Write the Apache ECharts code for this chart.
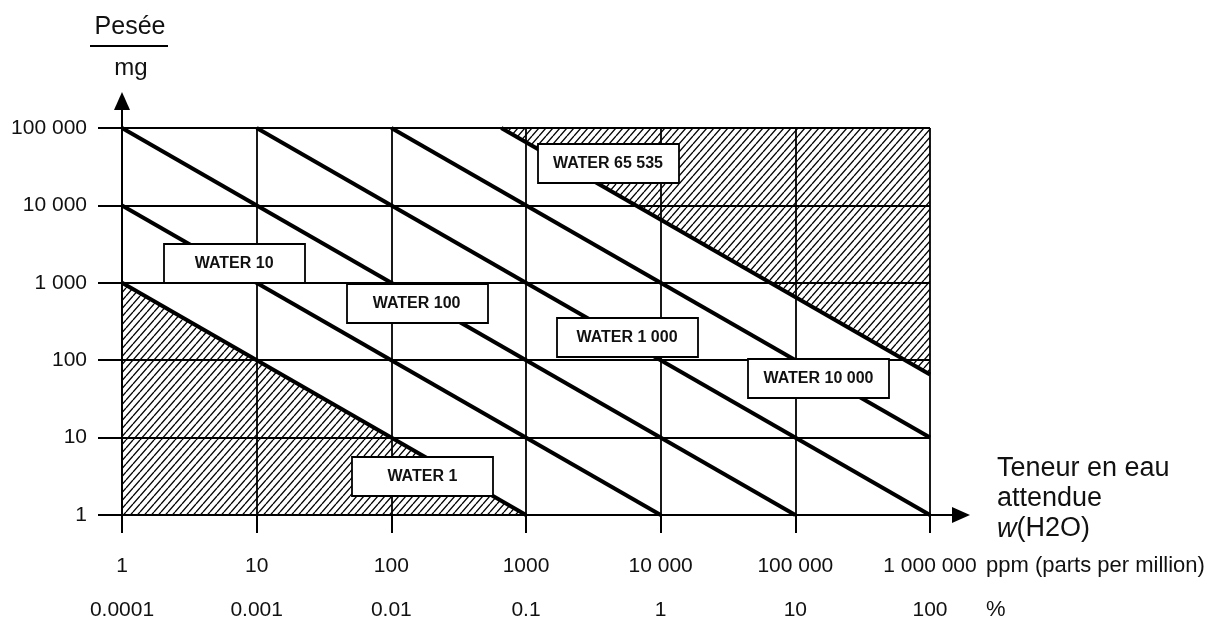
<!DOCTYPE html>
<html>
<head>
<meta charset="utf-8">
<script src="https://cdn.jsdelivr.net/npm/echarts@6/dist/echarts.min.js"></script>
<style>
html, body { margin: 0; padding: 0; background: #fff; }
#chart { width: 1207px; height: 623px; }
</style>
</head>
<body>
<div id="chart"></div>
<script>
// tick labels
const ppmTicks = ['1', '10', '100', '1000', '10 000', '100 000', '1 000 000']
const pctTicks = ['0.0001', '0.001', '0.01', '0.1', '1', '10', '100']
const massTicks = ['1', '10', '100', '1 000', '10 000', '100 000']

// WATER lines: [ppm, mg] end points
const waterNames = ['WATER 1', 'WATER 10', 'WATER 100', 'WATER 1 000', 'WATER 10 000', 'WATER 65 535']
const water1 = [[1, 1000], [1000, 1]]
const water10 = [[1, 10000], [10000, 1]]
const water100 = [[1, 100000], [100000, 1]]
const water1000 = [[10, 100000], [1000000, 1]]
const water10000 = [[100, 100000], [1000000, 10]]
const water65535 = [[655, 100000], [1000000, 65.5]]
const waterLines = [water1, water10, water100, water1000, water10000, water65535]

const FONT = '"Liberation Sans", Arial, sans-serif'

function makeHatch () {  // diagonal hatch tile
    const c = document.createElement('canvas')
    c.width = 7
    c.height = 8
    const ctx = c.getContext('2d')
    ctx.strokeStyle = '#000'
    ctx.lineWidth = 1.3
    for (let k = -1; k <= 1; k++) {
        ctx.beginPath()
        ctx.moveTo(k * 7, 8)
        ctx.lineTo(k * 7 + 7, 0)
        ctx.stroke()
    }
    return c
}

const chart = echarts.init(document.getElementById('chart'), null, {renderer: 'canvas'})
const hatch = {image: makeHatch(), repeat: 'repeat'}

const series = []
series.push({
    type: 'line', data: water1, symbol: 'none', silent: true,
    lineStyle: {width: 0}, areaStyle: {color: hatch, opacity: 1, origin: 'start'}, z: 1
})
series.push({
    type: 'line', data: water65535, symbol: 'none', silent: true,
    lineStyle: {width: 0}, areaStyle: {color: hatch, opacity: 1, origin: 'end'}, z: 1
})
waterLines.forEach(function (pts, i) {
    series.push({
        name: waterNames[i], type: 'line', data: pts, symbol: 'none', silent: true,
        lineStyle: {color: '#000', width: 4}, z: 3
    })
})

const option = {
    animation: false,
    backgroundColor: '#fff',
    grid: {left: 122, right: 277, top: 128, bottom: 108},
    xAxis: {
        type: 'log', logBase: 10, min: 1, max: 1000000, splitNumber: 6,
        axisLine: {show: true, lineStyle: {color: '#000', width: 2}},
        axisTick: {show: true, length: 18, lineStyle: {color: '#000', width: 2}},
        splitLine: {show: true, lineStyle: {color: '#000', width: 1.8}},
        axisLabel: {
            margin: 29, fontFamily: FONT, color: '#111',
            formatter: function (v) {
                const i = Math.round(Math.log10(v))
                return '{a|' + ppmTicks[i] + '}\n{b|' + pctTicks[i] + '}'
            },
            rich: {
                a: {fontFamily: FONT, fontSize: 21, color: '#111', lineHeight: 44},
                b: {fontFamily: FONT, fontSize: 21, color: '#111', lineHeight: 44}
            }
        }
    },
    yAxis: {
        type: 'log', logBase: 10, min: 1, max: 100000, splitNumber: 5,
        axisLine: {show: true, lineStyle: {color: '#000', width: 2}},
        axisTick: {show: true, length: 24, lineStyle: {color: '#000', width: 2}},
        splitLine: {show: true, lineStyle: {color: '#000', width: 1.8}},
        axisLabel: {
            margin: 35, fontFamily: FONT, fontSize: 21, color: '#111',
            formatter: function (v) {
                return massTicks[Math.round(Math.log10(v))]
            }
        }
    },
    series: series
}
chart.setOption(option)

// name boxes (anchored in data coords), axis arrows and titles
const boxAt = [[170, 3.15], [6.8, 1775], [154, 540], [5623, 194], [148600, 58], [4063, 34780]]
const graphics = []
boxAt.forEach(function (p, i) {
    const c = chart.convertToPixel({gridIndex: 0}, p)
    graphics.push({
        type: 'rect', z: 10,
        shape: {x: Math.round(c[0] - 70), y: Math.round(c[1] - 19.5), width: 141, height: 39},
        style: {fill: '#fff', stroke: '#000', lineWidth: 1.8}
    })
    graphics.push({
        type: 'text', z: 11, x: c[0], y: c[1],
        style: {text: waterNames[i], fontFamily: FONT, fontSize: 16, fontWeight: 'bold', fill: '#111', align: 'center', verticalAlign: 'middle'}
    })
})
const xe = chart.convertToPixel({gridIndex: 0}, [1000000, 1])
const ye = chart.convertToPixel({gridIndex: 0}, [1, 100000])
const txt = {fontFamily: FONT, fill: '#111'}
graphics.push(
    {type: 'line', shape: {x1: xe[0], y1: xe[1], x2: xe[0] + 26, y2: xe[1]}, style: {stroke: '#000', lineWidth: 2}},
    {type: 'polygon', shape: {points: [[xe[0] + 22, xe[1] - 8], [xe[0] + 40, xe[1]], [xe[0] + 22, xe[1] + 8]]}, style: {fill: '#000'}},
    {type: 'line', shape: {x1: ye[0], y1: ye[1], x2: ye[0], y2: ye[1] - 22}, style: {stroke: '#000', lineWidth: 2}},
    {type: 'polygon', shape: {points: [[ye[0] - 8, ye[1] - 18], [ye[0], ye[1] - 36], [ye[0] + 8, ye[1] - 18]]}, style: {fill: '#000'}},
    {type: 'text', x: 130, y: 27, style: Object.assign({text: 'Pesée', fontSize: 25, align: 'center', verticalAlign: 'middle'}, txt)},
    {type: 'line', shape: {x1: 90, y1: 46, x2: 168, y2: 46}, style: {stroke: '#000', lineWidth: 2}},
    {type: 'text', x: 131, y: 68, style: Object.assign({text: 'mg', fontSize: 24, align: 'center', verticalAlign: 'middle'}, txt)},
    {type: 'text', x: 997, y: 469, style: Object.assign({text: 'Teneur en eau', fontSize: 27, verticalAlign: 'middle'}, txt)},
    {type: 'text', x: 997, y: 499, style: Object.assign({text: 'attendue', fontSize: 27, verticalAlign: 'middle'}, txt)},
    {type: 'text', x: 997, y: 529, style: {
        text: '{i|w}(H2O)', fontFamily: FONT, fontSize: 27, fill: '#111', verticalAlign: 'middle',
        rich: {i: {fontFamily: FONT, fontSize: 27, fontStyle: 'italic', fill: '#111'}}
    }},
    {type: 'text', x: 986, y: 566, style: Object.assign({text: 'ppm (parts per million)', fontSize: 22, verticalAlign: 'middle'}, txt)},
    {type: 'text', x: 986, y: 610, style: Object.assign({text: '%', fontSize: 22, verticalAlign: 'middle'}, txt)}
)
chart.setOption({graphic: graphics})
</script>
</body>
</html>
